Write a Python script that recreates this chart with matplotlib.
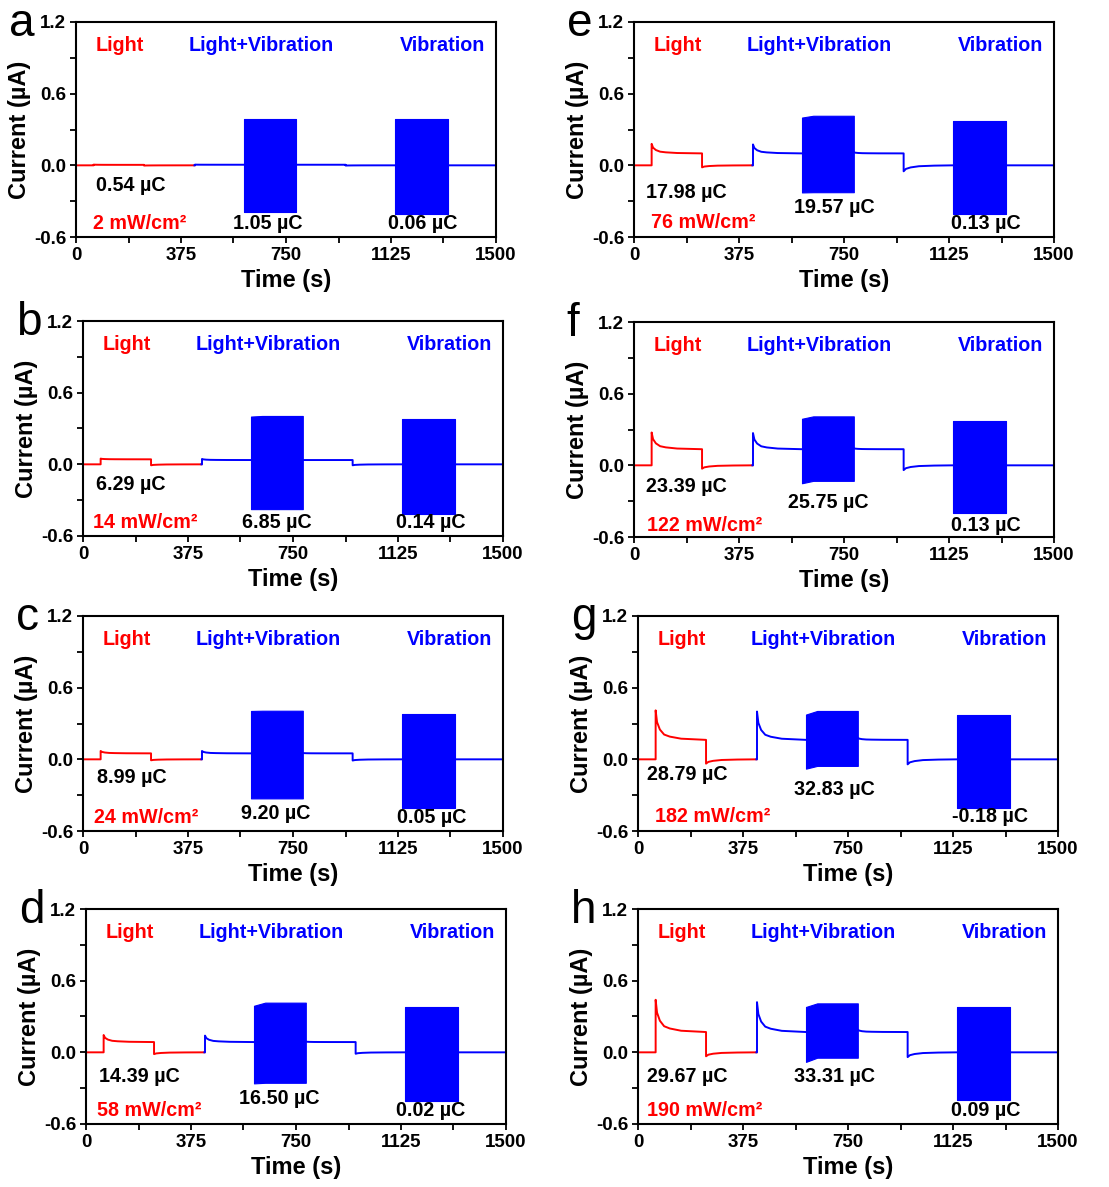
import matplotlib
matplotlib.use("Agg")
import matplotlib.pyplot as plt
from matplotlib.ticker import FixedLocator

plt.rcParams["font.family"] = ["Liberation Sans", "DejaVu Sans"]
plt.rcParams["font.weight"] = "bold"


# panel texts

panel_letters = ["a", "b", "c", "d", "e", "f", "g", "h"]
power_labels = ["2 mW/cm²", "14 mW/cm²", "24 mW/cm²", "58 mW/cm²",
                "76 mW/cm²", "122 mW/cm²", "182 mW/cm²", "190 mW/cm²"]
charge_light = ["0.54 µC", "6.29 µC", "8.99 µC", "14.39 µC",
                "17.98 µC", "23.39 µC", "28.79 µC", "29.67 µC"]
charge_lv = ["1.05 µC", "6.85 µC", "9.20 µC", "16.50 µC",
             "19.57 µC", "25.75 µC", "32.83 µC", "33.31 µC"]
charge_vib = ["0.06 µC", "0.14 µC", "0.05 µC", "0.02 µC",
              "0.13 µC", "0.13 µC", "-0.18 µC", "0.09 µC"]

# current levels (uA)
light_peak = [0.006, 0.048, 0.07, 0.145, 0.18, 0.275, 0.41, 0.44]
light_plateau = [0.004, 0.042, 0.05, 0.086, 0.10, 0.135, 0.163, 0.17]
light_off_dip = [-0.002, -0.008, -0.008, -0.015, -0.017, -0.028, -0.036, -0.033]
lv_peak = [0.006, 0.045, 0.07, 0.14, 0.175, 0.27, 0.40, 0.42]
lv_plateau = [0.005, 0.036, 0.05, 0.086, 0.10, 0.135, 0.163, 0.17]
lv_top_start = [0.385, 0.40, 0.405, 0.39, 0.40, 0.39, 0.375, 0.38]
lv_top_end = [0.385, 0.405, 0.407, 0.416, 0.415, 0.41, 0.405, 0.41]
lv_bot_start = [-0.39, -0.375, -0.327, -0.26, -0.227, -0.15, -0.078, -0.08]
lv_bot_end = [-0.39, -0.375, -0.327, -0.255, -0.225, -0.13, -0.055, -0.045]
post_vib = [0.005, 0.036, 0.053, 0.09, 0.11, 0.143, 0.18, 0.19]
lv_off_dip = [-0.002, -0.008, -0.01, -0.012, -0.05, -0.04, -0.042, -0.04]
vib_top = [0.39, 0.383, 0.38, 0.382, 0.375, 0.37, 0.373, 0.38]
vib_bot = [-0.41, -0.42, -0.405, -0.406, -0.41, -0.40, -0.405, -0.40]

# shape of spike decay / dark recovery
decay_dt = [0, 5, 15, 30, 50, 90, 178]
decay_frac = [1.0, 0.6, 0.35, 0.18, 0.11, 0.04, 0.0]
recover_dt = [0, 8, 25, 55, 110, 178]
recover_frac = [1.0, 0.6, 0.35, 0.15, 0.05, 0.0]

# switching times (s)
light_on, light_off, red_end = 63, 243, 423
lv_on, vib1_on, vib1_off, lv_off = 425, 600, 785, 963
vib1_settle = 640
vib2_on, vib2_off, t_end = 1140, 1327, 1500


# layout (pixels of the 1109x1187 figure)

W, H = 1109, 1187
ax_left = [76, 83, 83, 86, 634, 634, 638, 638]
ax_top = [22, 321, 616, 909, 22, 322, 616, 909]
ax_w, ax_h = 420, 215

# annotation positions (data coords)
light_q_xy = [(195, -0.17), (172, -0.17), (175, -0.15), (190, -0.20),
              (188, -0.23), (188, -0.18), (176, -0.13), (176, -0.20)]
lv_q_xy = [(684, -0.49), (691, -0.49), (687, -0.45), (690, -0.39),
           (717, -0.35), (695, -0.31), (703, -0.25), (702, -0.20)]
vib_q_xy = [(1238, -0.49), (1243, -0.49), (1244, -0.49), (1231, -0.49),
            (1255, -0.49), (1255, -0.50), (1257, -0.48), (1242, -0.49)]
power_xy = [(226, -0.49), (223, -0.49), (224, -0.49), (224, -0.49),
            (248, -0.48), (251, -0.50), (266, -0.48), (237, -0.49)]


def segment(t0, t1, v0, v1, dt, frac):
    span = t1 - t0
    t = [t0 + d * span / dt[-1] for d in dt]
    v = [v1 + f * (v0 - v1) for f in frac]
    return t, v


fig = plt.figure(figsize=(W / 100, H / 100), dpi=100)

for i in range(8):

    ax = fig.add_axes([ax_left[i] / W, 1 - (ax_top[i] + ax_h) / H,
                       ax_w / W, ax_h / H])

    # light only (red)
    t_r = [0, light_on]
    i_r = [0, 0]
    t, v = segment(light_on, light_off, light_peak[i], light_plateau[i],
                   decay_dt, decay_frac)
    t_r += t
    i_r += v
    t, v = segment(light_off, red_end, light_off_dip[i], 0,
                   recover_dt, recover_frac)
    t_r += t
    i_r += v
    ax.plot(t_r, i_r, color="#ff0000", linewidth=1.4)

    # light + vibration, then vibration (blue)
    t_b = [red_end, lv_on]
    i_b = [0, 0]
    t, v = segment(lv_on, vib1_on, lv_peak[i], lv_plateau[i],
                   decay_dt, decay_frac)
    t_b += t
    i_b += v
    t, v = segment(vib1_off, lv_off, post_vib[i], lv_plateau[i],
                   decay_dt, decay_frac)
    t_b += t
    i_b += v
    t, v = segment(lv_off, vib2_on, lv_off_dip[i], 0,
                   recover_dt, recover_frac)
    t_b += t
    i_b += v
    t_b += [vib2_off, t_end]
    i_b += [0, 0]
    ax.plot(t_b, i_b, color="#0000ff", linewidth=1.4)

    ax.fill_between([vib1_on, vib1_settle, vib1_off],
                    [lv_top_start[i], lv_top_end[i], lv_top_end[i]],
                    [lv_bot_start[i], lv_bot_end[i], lv_bot_end[i]],
                    color="#0000ff", linewidth=0.8)
    ax.fill_between([vib2_on, vib2_off],
                    [vib_top[i], vib_top[i]],
                    [vib_bot[i], vib_bot[i]],
                    color="#0000ff", linewidth=0.8)

    ax.set_xlim(0, 1500)
    ax.set_ylim(-0.6, 1.2)
    ax.set_xticks([0, 375, 750, 1125, 1500])
    ax.set_yticks([-0.6, 0.0, 0.6, 1.2])
    ax.set_yticklabels(["-0.6", "0.0", "0.6", "1.2"])
    ax.xaxis.set_minor_locator(FixedLocator([187.5, 562.5, 937.5, 1312.5]))
    ax.yaxis.set_minor_locator(FixedLocator([-0.3, 0.3, 0.9]))
    ax.tick_params(which="both", direction="out", length=4, width=1.3,
                   labelsize=13.5, pad=3)
    for sp in ax.spines.values():
        sp.set_linewidth(1.5)

    ax.set_xlabel("Time (s)", fontsize=17, fontweight="bold", labelpad=4)
    ax.set_ylabel("Current (µA)", fontsize=17, fontweight="bold", labelpad=2)

    # condition labels
    ax.text(158, 1.0, "Light", color="#ff0000", fontsize=14.2,
            ha="center", va="center")
    ax.text(660, 1.0, "Light+Vibration", color="#0000ff", fontsize=14.2,
            ha="center", va="center")
    ax.text(1309, 1.0, "Vibration", color="#0000ff", fontsize=14.2,
            ha="center", va="center")

    # charges and light intensity
    ax.text(*light_q_xy[i], charge_light[i], color="black", fontsize=14.2,
            ha="center", va="center")
    ax.text(*lv_q_xy[i], charge_lv[i], color="black", fontsize=14.2,
            ha="center", va="center")
    ax.text(*vib_q_xy[i], charge_vib[i], color="black", fontsize=14.2,
            ha="center", va="center")
    ax.text(*power_xy[i], power_labels[i], color="#ff0000", fontsize=14.2,
            ha="center", va="center")

    ax.text(-0.16, 0.935, panel_letters[i], transform=ax.transAxes,
            fontsize=33, fontweight="normal", ha="left", va="baseline")

fig.savefig("out.png", dpi=100)
